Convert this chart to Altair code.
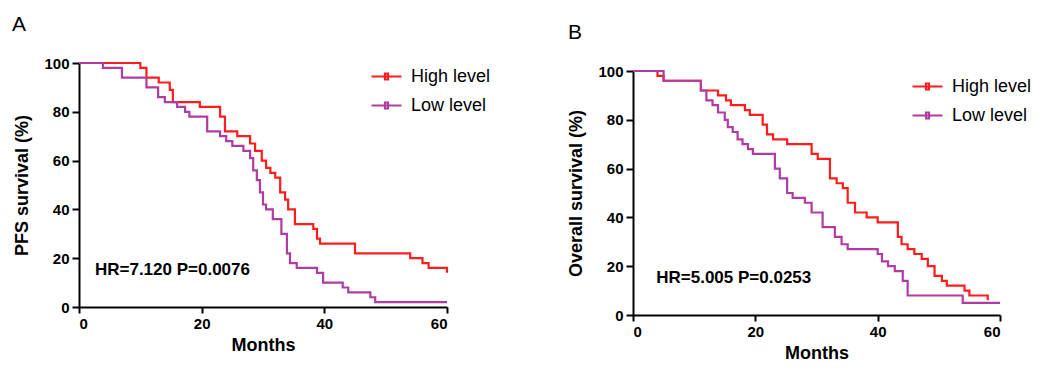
import altair as alt
import pandas as pd

# ---- data ----
groups = ["High level", "Low level"]
colors = ["#ff1c1c", "#b03ca3"]

a_high_t = [0, 10, 11, 13, 14.8, 15.3, 19.7, 23, 23.8, 25.8, 27.9, 28.7, 29.8, 30.5, 31.2, 32, 32.8, 33.6, 34.1, 35.2, 38.2, 38.8, 39.3, 45, 54, 56, 57, 60]
a_high_s = [100, 98, 94, 92, 89, 84, 82, 78, 72, 70, 67, 64, 60, 57, 55, 53, 47, 44, 40, 34, 32, 28, 26, 22, 20, 18, 16, 14]

a_low_t = [0, 3.9, 7, 11, 12.9, 14, 16, 17.3, 18, 20.9, 23, 24, 25, 26.8, 27.9, 28.4, 29, 29.5, 30, 30.5, 31.6, 33, 33.9, 34.4, 35.5, 38.8, 39.8, 43, 43.9, 47.5, 48.3, 60]
a_low_s = [100, 98, 94, 90, 86, 84, 82, 80, 78, 72, 70, 68, 66, 64, 61, 56, 52, 47, 42, 40, 36, 30, 22, 18, 16, 14, 10, 8, 6, 4, 2, 2]

b_high_t = [0, 4, 5, 11.1, 13.9, 15.2, 16, 18.3, 19.1, 21.2, 21.9, 22.9, 25.2, 29.2, 30.2, 32.2, 33.3, 34.3, 35.1, 36.3, 38.2, 40, 43.3, 43.9, 44.9, 46, 47.2, 48.2, 49.3, 50.5, 51.3, 54.2, 55, 58]
b_high_s = [100, 98, 96, 92, 90, 88, 86, 84, 82, 78, 74, 72, 70, 66, 64, 56, 54, 52, 46, 42, 40, 38, 32, 29, 27, 25, 23, 20, 16, 14, 12, 10, 8, 6]

b_low_t = [0, 5, 11.1, 12, 13, 13.9, 15, 15.5, 16.3, 17.1, 17.9, 18.8, 19.6, 23.2, 24, 25.2, 26.1, 28.1, 29.2, 31, 33, 34.1, 35.1, 40, 40.7, 41.7, 42.8, 44.1, 44.9, 53.9, 60]
b_low_s = [100, 96, 92, 88, 86, 83, 80, 77, 75, 72, 70, 68, 66, 60, 56, 50, 48, 46, 42, 36, 32, 29, 27, 25, 22, 20, 18, 14, 8, 5, 5]

x_ticks = [0, 20, 40, 60]
y_ticks = [0, 20, 40, 60, 80, 100]

FONT = "Liberation Sans"


def frame(th, sh, tl, sl):
    return pd.concat([
        pd.DataFrame({"t": th, "s": sh, "group": groups[0]}),
        pd.DataFrame({"t": tl, "s": sl, "group": groups[1]}),
    ], ignore_index=True)


def panel(df, letter, ytitle, hr_text, hr_pos, width, height, yrange, leg_x, leg_y, letter_xy):
    xs = alt.Scale(domain=[0, 60], nice=False, zero=False)
    ys = alt.Scale(domain=[0, 100], range=yrange, nice=False)
    lines = alt.Chart(df).mark_line(interpolate="step-after", strokeWidth=2.2).encode(
        x=alt.X("t:Q", scale=xs, axis=alt.Axis(values=x_ticks, title="Months", format="d")),
        y=alt.Y("s:Q", scale=ys, axis=alt.Axis(values=y_ticks, title=ytitle, format="d", tickSize=7, labelPadding=3, titlePadding=12)),
        color=alt.Color("group:N", scale=alt.Scale(domain=groups, range=colors),
                        legend=alt.Legend(orient="none", legendX=leg_x, legendY=leg_y, title=None,
                                          symbolType="M-1,0L1,0M-0.1,-0.2L0.1,-0.2L0.1,0.2L-0.1,0.2Z",
                                          symbolSize=900, symbolStrokeWidth=2.2, padding=0,
                                          labelFont=FONT, labelFontSize=18, labelColor="black",
                                          labelOffset=8, rowPadding=3)),
        order=alt.Order("t:Q"),
    )
    hr = alt.Chart(pd.DataFrame({"t": [hr_pos[0]], "s": [hr_pos[1]], "txt": [hr_text]})).mark_text(
        align="left", baseline="middle", font=FONT, fontWeight="bold", fontSize=17, color="black"
    ).encode(x=alt.X("t:Q", scale=xs), y=alt.Y("s:Q", scale=ys), text="txt:N")
    lab = alt.Chart(pd.DataFrame({"txt": [letter]})).mark_text(
        align="left", baseline="middle", font=FONT, fontSize=21, color="black"
    ).encode(x=alt.value(letter_xy[0]), y=alt.value(letter_xy[1]), text="txt:N")
    return alt.layer(lines, hr, lab).properties(width=width, height=height)


dfa = frame(a_high_t, a_high_s, a_low_t, a_low_s)
dfb = frame(b_high_t, b_high_s, b_low_t, b_low_s)

pa = panel(dfa, "A", "PFS survival (%)", "HR=7.120 P=0.0076", (2.6, 15), 368, 244, [244, 0], 291, -3, (-67, -38))
pb = panel(dfb, "B", "Overall survival (%)", "HR=5.005 P=0.0253", (3.8, 15), 367, 252, [252, 8], 278, 7, (-65, -30))

chart = alt.hconcat(pa, pb, spacing=186, bounds="flush").resolve_scale(color="independent").properties(
    padding={"left": 4, "top": 6, "right": 0, "bottom": 0}
).configure_view(stroke=None).configure_axis(
    grid=False, labelFont=FONT, labelFontWeight="bold", labelFontSize=15, labelColor="black",
    titleFont=FONT, titleFontWeight="bold", titleFontSize=18, titleColor="black",
    domainColor="black", domainWidth=2, tickColor="black", tickWidth=2, tickSize=6,
    labelPadding=3, titlePadding=5
)

chart.save("out.html", embed_options={"renderer": "svg", "actions": False})
